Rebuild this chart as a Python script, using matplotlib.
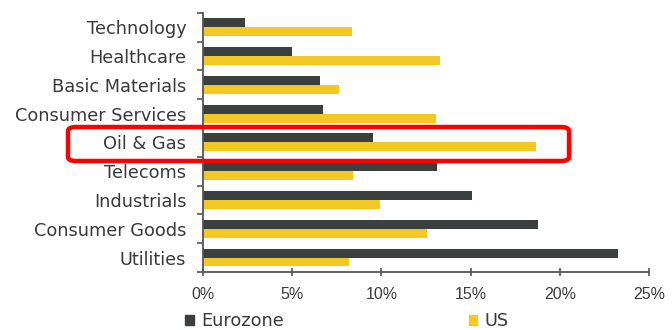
import matplotlib.pyplot as plt
import matplotlib.patches as mpatches
import numpy as np

plt.rcParams['font.family'] = ['Liberation Sans', 'DejaVu Sans']

sectors = ['Technology', 'Healthcare', 'Basic Materials', 'Consumer Services',
           'Oil & Gas', 'Telecoms', 'Industrials', 'Consumer Goods', 'Utilities']
eurozone = [2.35, 5.0, 6.55, 6.7, 9.5, 13.1, 15.1, 18.8, 23.25]
us = [8.35, 13.3, 7.6, 13.05, 18.65, 8.4, 9.9, 12.55, 8.2]
xticks = [0, 5, 10, 15, 20, 25]

dark = '#3b3f3f'
yellow = '#f3c823'
txt = '#3a3a3a'

fig = plt.figure(figsize=(6.72, 3.30), dpi=100)
ax = fig.add_axes([0.302, 0.176, 0.664, 0.785])

y = np.arange(len(sectors))
h = 0.31
ax.barh(y - h / 2, eurozone, height=h, color=dark, label='Eurozone')
ax.barh(y + h / 2, us, height=h, color=yellow, label='US')

ax.set_ylim(len(sectors) - 0.5, -0.5)
ax.set_xlim(0, 25)
ax.set_xticks(xticks)
ax.set_xticklabels([f'{t}%' for t in xticks])
ax.set_yticks(y)
ax.set_yticklabels(sectors, family='DejaVu Sans', fontsize=12.8)
ax.set_yticks(np.arange(len(sectors) + 1) - 0.5, minor=True)
ax.tick_params(axis='y', which='major', length=0, pad=12, labelcolor=txt)
ax.tick_params(axis='y', which='minor', length=4, width=1.2, color='#555555', direction='out')
ax.tick_params(axis='x', length=6, width=1.2, color='#555555', direction='inout',
               labelsize=11.5, labelcolor=txt, pad=8)
for s in ['top', 'right']:
    ax.spines[s].set_visible(False)
for s in ['left', 'bottom']:
    ax.spines[s].set_color('#555555')
    ax.spines[s].set_linewidth(1.3)

handles = [mpatches.Patch(color=dark, label='Eurozone'),
           mpatches.Patch(color=yellow, label='US')]
fig.legend(handles=handles, loc='lower center', bbox_to_anchor=(0.516, -0.05), ncol=2,
           frameon=False, handlelength=0.5, handleheight=0.5, handletextpad=0.4,
           columnspacing=10.4, prop={'family': 'DejaVu Sans', 'size': 12.8}, labelcolor=txt)

# red highlight around Oil & Gas
box = mpatches.FancyBboxPatch((68 / 672, 1 - 161 / 330), (569 - 68) / 672, 34 / 330,
                              boxstyle='round,pad=0,rounding_size=0.012',
                              transform=fig.transFigure, fill=False,
                              edgecolor='#ff0000', linewidth=3.2, zorder=10)
fig.patches.append(box)

fig.savefig('out.png', dpi=100)
